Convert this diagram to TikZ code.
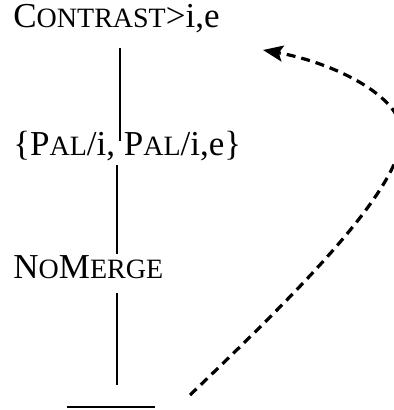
\documentclass[tikz,border=0pt]{standalone}
\usepackage{fontspec}
\setmainfont{Liberation Serif}
\usetikzlibrary{arrows.meta}
\newcommand{\kc}[1]{{\fontsize{14}{16}\selectfont #1}}

\begin{document}
\begin{tikzpicture}[x=0.5pt, y=-0.5pt,
    lab/.style={anchor=base west, inner sep=0pt, font=\fontsize{17.5}{20}\selectfont},
    stem/.style={line width=1.1pt},
    loop/.style={line width=1.6pt, dash pattern=on 4.5pt off 3pt,
      -{Stealth[length=10pt, width=8pt, inset=2pt]}}]
  \useasboundingbox (0,0) rectangle (394,410);
  \clip (0,0) rectangle (394,410);

  % --- les trois etiquettes ---
  \node[lab] (contrast) at (13,28)  {C\kc{ONTRAST}>i,e};
  \node[lab] (pal)      at (13,156) {\{P\kc{AL}/i, P\kc{AL}/i,e\}};
  \node[lab] (nomerge)  at (13,278) {N\kc{O}M\kc{ERGE}};

  % --- traits verticaux ---
  \coordinate (a1) at (120,48);  \coordinate (b1) at (120,141);
  \coordinate (a2) at (117,165); \coordinate (b2) at (117,254);
  \coordinate (a3) at (117,293); \coordinate (b3) at (117,385);
  \draw[stem] (a1) -- (b1);
  \draw[stem] (a2) -- (b2);
  \draw[stem] (a3) -- (b3);

  % --- barre du bas ---
  \coordinate (bl) at (67,407); \coordinate (br) at (155,407);
  \draw[stem] (bl) -- (br);

  % --- retour en pointilles ---
  \coordinate (dep) at (190,395);
  \coordinate (tour) at (402,135);
  \coordinate (arr) at (263,50);
  \draw[loop] (dep) .. controls (300,290) and (400,190) .. (tour)
    .. controls (403,95) and (330,62) .. (arr);
\end{tikzpicture}
\end{document}
